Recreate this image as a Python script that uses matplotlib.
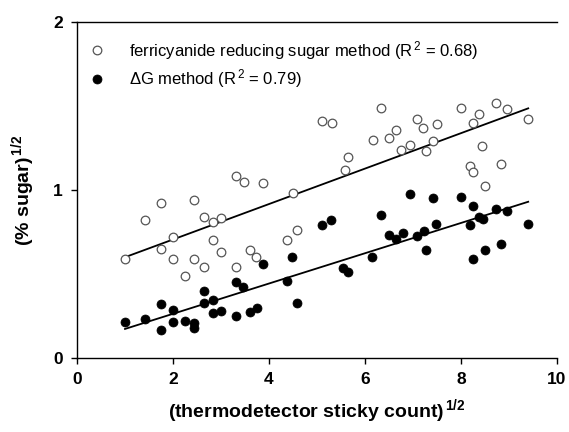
import matplotlib
matplotlib.use("Agg")
import matplotlib.pyplot as plt
import numpy as np

plt.rcParams['font.family'] = ['Liberation Sans', 'DejaVu Sans']
plt.rcParams['mathtext.fontset'] = 'custom'
plt.rcParams['mathtext.rm'] = 'Liberation Sans'
plt.rcParams['mathtext.bf'] = 'Liberation Sans:bold'
plt.rcParams['mathtext.it'] = 'Liberation Sans:italic'

# ferricyanide reducing sugar method (open circles)
open_x = [1.01, 1.42, 1.74, 1.74, 1.99, 1.99, 2.24, 2.44, 2.44, 2.64, 2.64, 2.83, 2.83,
          3.01, 3.01, 3.31, 3.31, 3.48, 3.60, 3.73, 3.87, 4.37, 4.49, 4.59, 5.10, 5.31,
          5.58, 5.65, 6.17, 6.33, 6.49, 6.65, 6.76, 6.94, 7.08, 7.21, 7.28, 7.42, 7.49,
          8.01, 8.19, 8.26, 8.26, 8.375, 8.43, 8.50, 8.73, 8.83, 8.95, 9.39]
open_y = [0.59, 0.82, 0.92, 0.65, 0.72, 0.59, 0.49, 0.94, 0.59, 0.84, 0.54, 0.81, 0.70,
          0.835, 0.63, 1.085, 0.54, 1.045, 0.64, 0.60, 1.04, 0.70, 0.98, 0.76, 1.41, 1.40,
          1.12, 1.195, 1.30, 1.49, 1.31, 1.36, 1.24, 1.27, 1.42, 1.37, 1.23, 1.29, 1.39,
          1.49, 1.145, 1.40, 1.105, 1.45, 1.26, 1.025, 1.52, 1.155, 1.48, 1.42]

# Delta G method (filled circles)
fill_x = [1.01, 1.42, 1.74, 1.74, 1.99, 1.99, 2.24, 2.43, 2.43, 2.64, 2.64, 2.83, 2.83,
          3.01, 3.31, 3.31, 3.46, 3.60, 3.74, 3.87, 4.37, 4.47, 4.59, 5.10, 5.29, 5.55,
          5.65, 6.15, 6.33, 6.49, 6.65, 6.79, 6.94, 7.08, 7.23, 7.28, 7.42, 7.48, 8.00,
          8.19, 8.26, 8.26, 8.38, 8.45, 8.49, 8.73, 8.83, 8.95, 9.39]
fill_y = [0.216, 0.23, 0.167, 0.32, 0.286, 0.216, 0.22, 0.21, 0.18, 0.40, 0.33, 0.345, 0.27,
          0.28, 0.45, 0.25, 0.42, 0.275, 0.30, 0.56, 0.46, 0.60, 0.325, 0.79, 0.82, 0.537,
          0.51, 0.60, 0.85, 0.735, 0.71, 0.745, 0.976, 0.725, 0.755, 0.64, 0.95, 0.80, 0.96,
          0.79, 0.905, 0.59, 0.84, 0.83, 0.64, 0.887, 0.68, 0.875, 0.80]

# regression lines (end points)
fit_x = [1.0, 9.4]
open_fit_y = [0.60, 1.486]
fill_fit_y = [0.173, 0.93]

x_ticks = [0, 2, 4, 6, 8, 10]
y_ticks = [0, 1, 2]

fig = plt.figure(figsize=(5.69, 4.32), dpi=100)
ax = fig.add_axes([77/569, (432-358)/432, 480/569, 336/432])

ax.plot(fit_x, open_fit_y, color='black', lw=1.3, zorder=2)
ax.plot(fit_x, fill_fit_y, color='black', lw=1.3, zorder=2)
ax.plot(open_x, open_y, linestyle='none', marker='o', markersize=6.2,
        markerfacecolor='white', markeredgecolor='#555555', markeredgewidth=0.9,
        zorder=3, label=r'ferricyanide reducing sugar method (R$^{\,2}$ = 0.68)')
ax.plot(fill_x, fill_y, linestyle='none', marker='o', markersize=6.5,
        markerfacecolor='black', markeredgecolor='black', markeredgewidth=0.5,
        zorder=3, label=r'$\Delta$G method (R$^{\,2}$ = 0.79)')

ax.set_xlim(0, 10)
ax.set_ylim(0, 2)
ax.set_xticks(x_ticks)
ax.set_yticks(y_ticks)
ax.set_xticklabels([str(t) for t in x_ticks], fontweight='bold', fontsize=12.5)
ax.set_yticklabels([str(t) for t in y_ticks], fontweight='bold', fontsize=12.5)
ax.tick_params(direction='out', length=4, width=1, pad=6)
ax.spines['right'].set_visible(False)
for s in ax.spines.values():
    s.set_linewidth(1.0)

ax.set_xlabel(r'(thermodetector sticky count)$^{\,\mathbf{1/2}}$', fontweight='bold',
              fontsize=14, labelpad=7)
ax.set_ylabel(r'(% sugar)$^{\,\mathbf{1/2}}$', fontweight='bold', fontsize=14, labelpad=12)

leg = ax.legend(loc='upper left', bbox_to_anchor=(0.025, 0.95), frameon=False,
                fontsize=12, handlelength=1.0, handletextpad=1.4, labelspacing=0.35,
                borderaxespad=0, borderpad=0)

fig.savefig('out.png', dpi=100)
